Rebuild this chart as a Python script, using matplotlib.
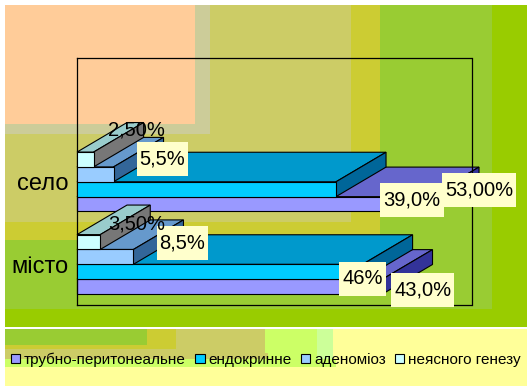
import matplotlib
matplotlib.use("Agg")
import matplotlib.pyplot as plt
from matplotlib.patches import Rectangle, Polygon, Patch
from matplotlib.transforms import IdentityTransform

plt.rcParams["font.family"] = ["Liberation Sans", "DejaVu Sans"]

# data
categories = ["місто", "село"]
series_names = ["трубно-перитонеальне", "ендокринне", "аденоміоз", "неясного генезу"]
misto_values = [46, 43, 8.5, 3.5]
selo_values = [53, 39, 5.5, 2.5]
misto_labels = ["46%", "43,0%", "8,5%", "3,50%"]
selo_labels = ["53,00%", "39,0%", "5,5%", "2,50%"]

# colours per series: front, top, side
front_colors = ["#9999FF", "#00CCFF", "#99CCFF", "#CCFFFF"]
top_colors = ["#6666CC", "#0099CC", "#6699CC", "#99CCCC"]
side_colors = ["#333399", "#006699", "#336699", "#777777"]

# label offsets from the bar end, in pixels
misto_offsets = [(-20, 8), (60, -18), (49, 14), (36, 18)]
selo_offsets = [(50, 14), (76, -11), (49, 15), (43, 30)]
label_boxes = [True, True, True, False]

W, H = 527, 386
fig = plt.figure(figsize=(W / 100, H / 100), dpi=100, facecolor="white")

# banded background, pixel coordinates from the top left
bg = fig.add_axes([0, 0, 1, 1], zorder=0)
bg.set_xlim(0, W)
bg.set_ylim(H, 0)
bg.axis("off")
chart_bands = [
    (5, 5, 527, 327, "#99CC00"),
    (5, 5, 492, 309, "#99CC33"),
    (5, 5, 380, 240, "#CCCC33"),
    (5, 5, 351, 222, "#CCCC66"),
    (5, 5, 210, 134, "#CCCC99"),
    (5, 5, 195, 124, "#FFCC99"),
]
legend_bands = [
    (5, 329, 527, 386, "#FFFF99"),
    (5, 329, 333, 359, "#CCFF99"),
    (5, 329, 317, 359, "#CCFF66"),
    (5, 359, 336, 367, "#CCFF66"),
    (5, 329, 265, 353, "#CCCC66"),
    (5, 353, 268, 359, "#CCCC66"),
    (5, 329, 176, 349, "#CCCC33"),
    (5, 329, 147, 345, "#99CC33"),
]
for x0, y0, x1, y1, c in chart_bands + legend_bands:
    bg.add_patch(Rectangle((x0, y0), x1 - x0, y1 - y0, facecolor=c, edgecolor="none"))

ax = fig.add_axes([77 / W, (H - 305) / H, 394.5 / W, 247 / H], zorder=1)
ax.patch.set_alpha(0)
ax.set_xlim(0, 59.4)
ax.set_ylim(-0.493, 2.5)

bar_h = 0.18
depth_x = 7.53
depth_y = 0.358
shift = [-0.27, -0.09, 0.09, 0.27]

for cat_pos, values in [(0, misto_values), (1, selo_values)]:
    for i, v in enumerate(values):
        y = cat_pos + shift[i]
        y_top = y + bar_h / 2
        y_bot = y - bar_h / 2
        # top and side faces of the 3d bar
        ax.add_patch(Polygon([(0, y_top), (depth_x, y_top + depth_y), (v + depth_x, y_top + depth_y), (v, y_top)],
                             facecolor=top_colors[i], edgecolor="black", lw=0.8, clip_on=False, zorder=2 + i))
        ax.add_patch(Polygon([(v, y_top), (v + depth_x, y_top + depth_y), (v + depth_x, y_bot + depth_y), (v, y_bot)],
                             facecolor=side_colors[i], edgecolor="black", lw=0.8, clip_on=False, zorder=2 + i))
        ax.barh(y, v, height=bar_h, color=front_colors[i], edgecolor="black", lw=0.8, clip_on=False, zorder=2 + i)

renderer = fig.canvas.get_renderer()
for cat_pos, values, labels, offsets in [
    (0, misto_values, misto_labels, misto_offsets),
    (1, selo_values, selo_labels, selo_offsets),
]:
    for i, v in enumerate(values):
        t = ax.annotate(labels[i], xy=(v, cat_pos + shift[i]), xytext=offsets[i], textcoords="offset pixels",
                        ha="center", va="center", fontsize=14.5, color="black", zorder=10,
                        annotation_clip=False)
        if label_boxes[i]:
            # label box is taller than the text, so it is drawn on its own
            ext = t.get_window_extent(renderer)
            cy = (ext.y0 + ext.y1) / 2
            ax.add_patch(Rectangle((ext.x0 - 3, cy - 17), ext.width + 6, 34, transform=IdentityTransform(),
                                   facecolor="#FFFFCC", edgecolor="none", clip_on=False, zorder=9))

ax.set_xticks([])
ax.set_yticks([0, 1])
ax.set_yticklabels(categories, fontsize=17, color="black")
ax.tick_params(axis="y", length=0, pad=6)
for s in ax.spines.values():
    s.set_linewidth(0.9)
    s.set_color("black")

handles = [Patch(facecolor=c, edgecolor="black", lw=0.8) for c in front_colors]
fig.legend(handles, series_names, loc="lower left", bbox_to_anchor=(11 / W, (H - 367) / H), ncol=4, frameon=False,
           fontsize=11, handlelength=0.6, handleheight=0.6, handletextpad=0.25, columnspacing=0.62,
           borderpad=0, borderaxespad=0)

fig.savefig("out.png", dpi=100)
